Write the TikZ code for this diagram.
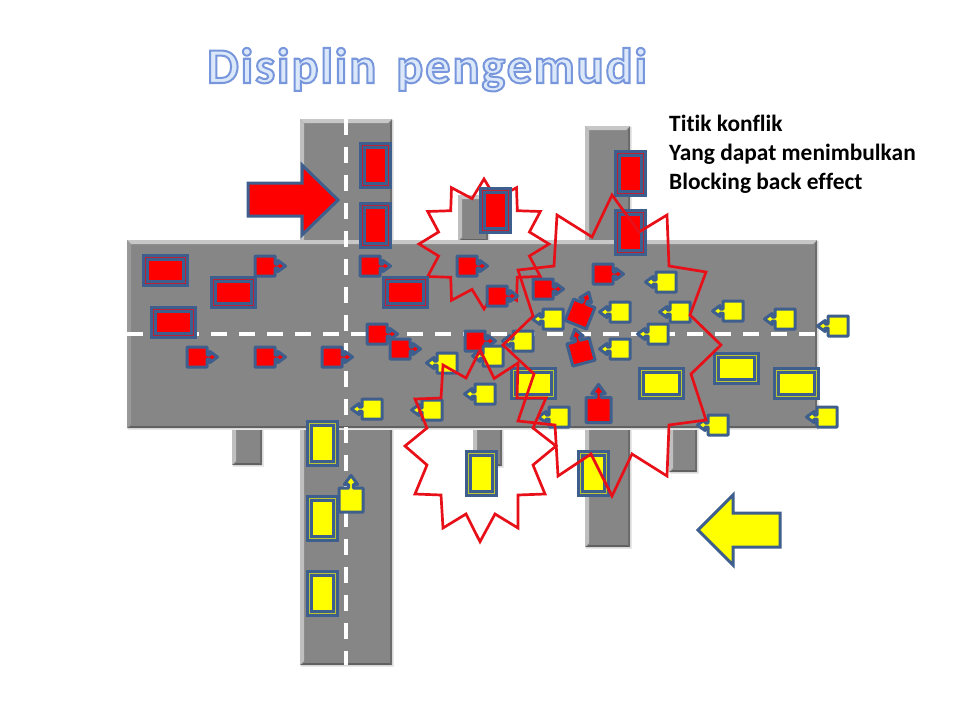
\documentclass[tikz,border=0pt]{standalone}
\usepackage{fontspec}
\setmainfont[Ligatures=CommonOff]{Carlito}
\newfontfamily\titlefont[LetterSpace=4.2,WordSpace=1.5,Ligatures=CommonOff]{Carlito}
\definecolor{carblue}{RGB}{62,94,142}
\definecolor{roadgray}{RGB}{134,134,134}
\definecolor{burst}{RGB}{232,16,24}
\definecolor{carred}{RGB}{255,0,0}
\definecolor{caryellow}{RGB}{255,255,0}
\tikzset{
  x=1pt,y=-1pt,
  roadface/.style={fill=roadgray,draw=none},
  edgelight/.style={fill=#1,draw=none},
  dashline/.style={draw=white,line width=3.6pt,dash pattern=on 16pt off 12pt},
  burstline/.style={draw=burst,line width=2.7pt,miter limit=10,line join=miter},
  bigarrow/.style={draw=carblue,line width=3pt,fill=#1,line join=miter},
  carbody/.style={draw=carblue,line width=7pt,fill=#1,line join=miter},
  carinner/.style={draw=#1!65!carblue,line width=.8pt},
  calloutshape/.style={draw=carblue,line width=3pt,fill=#1,line join=round},
  notetext/.style={anchor=base west,font=\bfseries\fontsize{23.4}{28}\selectfont,text=black,inner sep=0pt},
}
% road with bevelled edges: x1,y1,x2,y2,left edge shade
\newcommand{\roadslab}[5]{%
  \fill[black!9] (#1+1,#2+1) rectangle (#3+2,#4+2);
  \fill[roadface] (#1,#2) rectangle (#3,#4);
  \fill[edgelight=black!22] (#1,#2) -- (#3,#2) -- (#3-4,#2+4) -- (#1+4,#2+4) -- cycle;
  \fill[edgelight=#5] (#1,#2) -- (#1+4,#2+4) -- (#1+4,#4-4) -- (#1,#4) -- cycle;
  \fill[edgelight=black!62] (#1,#4) -- (#1+4,#4-2) -- (#3-2,#4-2) -- (#3,#4) -- cycle;
  \fill[edgelight=black!58] (#3,#2) -- (#3-2,#2+4) -- (#3-2,#4-2) -- (#3,#4) -- cycle;
}
% long car: centre x,y, half width, half height, colour
\newcommand{\longcar}[5]{%
  \draw[carbody=#5] (#1-#3,#2-#4) rectangle (#1+#3,#2+#4);
  \draw[carinner=#5] (#1-#3,#2-#4) rectangle (#1+#3,#2+#4);
}
\newcommand{\redflat}[2]{\longcar{#1}{#2}{20}{13}{carred}}
\newcommand{\redtall}[2]{\longcar{#1}{#2}{13}{20}{carred}}
\newcommand{\yelflat}[2]{\longcar{#1}{#2}{20}{13}{caryellow}}
\newcommand{\yeltall}[2]{\longcar{#1}{#2}{13}{20}{caryellow}}
% small car with arrow callout: x,y,rotation,colour,scale
\newcommand{\callcar}[5]{%
  \begin{scope}[shift={(#1,#2)},rotate=#3,scale=#5]
    \draw[calloutshape=#4] (-10,-10) -- (10,-10) -- (10,-2) -- (13,-2) -- (13,-5.5) -- (20.5,0)
      -- (13,5.5) -- (13,2) -- (10,2) -- (10,10) -- (-10,10) -- cycle;
  \end{scope}
}
\newcommand{\redright}[2]{\callcar{#1}{#2}{0}{carred}{1}}
\newcommand{\yelleft}[2]{\callcar{#1}{#2}{180}{caryellow}{1}}
\begin{document}
\begin{tikzpicture}
\useasboundingbox (0,0) rectangle (960,720);
% title
\node[anchor=base west,inner sep=0pt] (title) at (207,83)
  {\titlefont\bfseries\fontsize{50}{56}\selectfont\special{pdf:code q 2 Tr 2 w 0.47 0.59 0.86 RG 0.86 0.91 0.98 rg}Disiplin pengemudi\special{pdf:code Q}};
% note
\node[notetext] (noteA) at (669,131) {Titik konflik};
\node[notetext] (noteB) at (669,160) {Yang dapat menimbulkan};
\node[notetext] (noteC) at (669,189) {Blocking back effect};
% roads
\roadslab{300}{119}{392}{665}{black!25}
\roadslab{585}{126}{630}{547}{black!25}
\roadslab{458}{195}{488}{241}{black!25}
\roadslab{232}{420}{262}{465}{black!25}
\roadslab{473}{420}{502}{466}{black!25}
\roadslab{669}{420}{697}{472}{black!25}
\roadslab{127}{240}{817}{428}{black!40}
\draw[dashline] (127,334) -- (817,334);
\draw[dashline] (346,119) -- (346,665);
% first burst lies under the cars
\draw[burstline] (484,179) -- (496,198.6) -- (516.5,187.7) -- (517.3,210.7) -- (540.3,211.5)
  -- (529.4,232) -- (549,244) -- (529.4,256) -- (540.3,276.5) -- (517.3,277.3) -- (516.5,300.3)
  -- (496,289.4) -- (484,309) -- (472,289.4) -- (451.5,300.3) -- (450.7,277.3) -- (427.7,276.5)
  -- (438.6,256) -- (419,244) -- (438.6,232) -- (427.7,211.5) -- (450.7,210.7) -- (451.5,187.7)
  -- (472,198.6) -- cycle;
% big arrows
\draw[bigarrow=carred] (248,183) -- (302,183) -- (302,165) -- (338,200) -- (302,235) -- (302,216) -- (248,216) -- cycle;
\draw[bigarrow=caryellow] (780,513) -- (733,513) -- (733,495) -- (698,530) -- (733,565) -- (733,547) -- (780,547) -- cycle;
% long cars
\redtall{375}{165}\redtall{375}{225}\redtall{495.5}{210}\redtall{630}{173}\redtall{630}{232}
\redflat{165}{270}\redflat{233}{292}\redflat{173}{322}\redflat{405}{292}
\yeltall{322}{443}\yeltall{322}{518}\yeltall{322}{593}\yeltall{481}{473}\yeltall{593}{473}
\yelflat{533}{383}\yelflat{661}{383}\yelflat{736}{368}\yelflat{796}{383}
% small red cars
\redright{265}{266}\redright{370}{266}\redright{467}{266}\redright{497}{296}
\redright{543}{289}\redright{603}{274}\redright{197}{357}\redright{265}{357}
\redright{332}{357}\redright{377}{334}\redright{400}{349}\redright{475}{341}
\callcar{581}{352}{105}{carred}{1.15}
\callcar{580}{314}{68}{carred}{1.15}
\callcar{598.5}{410}{90}{carred}{1.25}
% small yellow cars
\yelleft{666}{282}\yelleft{680}{312}\yelleft{733}{311}\yelleft{785}{319}\yelleft{838}{326}
\yelleft{620}{312}\yelleft{620}{349}\yelleft{658}{334}\yelleft{553}{319}\yelleft{523}{341}
\yelleft{493}{356}\yelleft{447}{363}\yelleft{485}{394}\yelleft{432}{410}\yelleft{372}{409}
\yelleft{559}{417}\yelleft{718}{425}\yelleft{827}{417}
\callcar{351}{500}{90}{caryellow}{1.2}
% bursts on top
\draw[burstline] (480,350) -- (494.2,378.4) -- (518,363) -- (517,398) -- (546,398) -- (533,428)
  -- (556,446) -- (533,465) -- (545,494) -- (518,495) -- (518,528) -- (495,514) -- (480,541.7)
  -- (466,514) -- (443,528) -- (441,495) -- (415,494) -- (427,465) -- (405,446) -- (427,428)
  -- (415,399) -- (441,398) -- (443,365) -- (466,378) -- cycle;
\draw[burstline] (612,195) -- (639,232) -- (667,215) -- (669,266) -- (706,272) -- (690,315)
  -- (721,345) -- (691,374) -- (706,420) -- (669,425) -- (667,476) -- (632,454) -- (612,496)
  -- (591,454) -- (558,476) -- (555,425) -- (518,421) -- (534,374) -- (503,345) -- (533,316)
  -- (518,270) -- (554,266) -- (557,215) -- (592,237) -- cycle;
\end{tikzpicture}
\end{document}
